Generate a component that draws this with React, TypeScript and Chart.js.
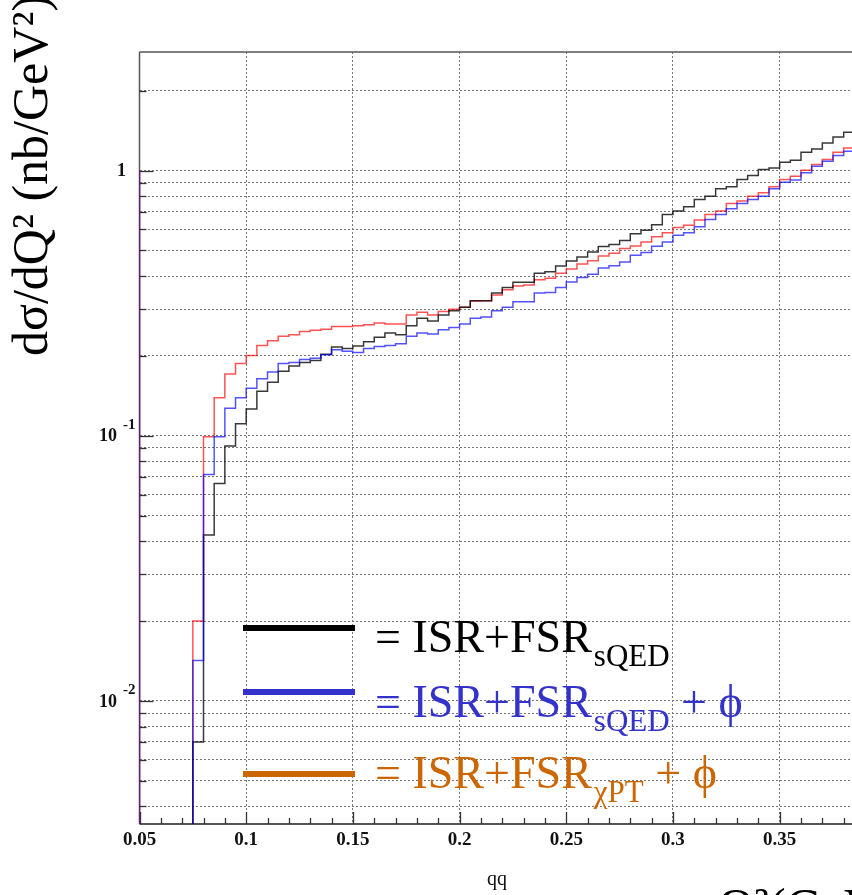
import React, { useEffect, useRef } from 'react';
import { Chart, registerables } from 'chart.js';

Chart.register(...registerables);

// ---- data ----
const BIN_START = 0.075; // first filled bin lower edge
const BIN_WIDTH = 0.005;
const X_MIN = 0.05;
const X_MAX = 0.3839;
const Y_MIN = 0.003434;
const Y_MAX = 2.798;
const LEFT_EDGE_LEVEL = 1; // red/blue outline along the x-minimum edge
const FLOOR = 1e-3; // empty bins (below the visible range)

const blackSQED = [
  0.007, 0.0422, 0.066, 0.0914, 0.111, 0.126, 0.147, 0.159, 0.175, 0.183,
  0.189, 0.192, 0.203, 0.216, 0.213, 0.218, 0.226, 0.235, 0.244, 0.24,
  0.26, 0.277, 0.271, 0.285, 0.296, 0.305, 0.323, 0.323, 0.345, 0.362,
  0.379, 0.379, 0.41, 0.415, 0.436, 0.456, 0.472, 0.493, 0.517, 0.526,
  0.545, 0.578, 0.595, 0.624, 0.683, 0.703, 0.73, 0.778, 0.8, 0.853,
  0.868, 0.925, 0.958, 1.009, 1.023, 1.074, 1.093, 1.172, 1.206, 1.271,
  1.339, 1.393,
];

const blueSQEDphi = [
  0.0142, 0.0714, 0.099, 0.127, 0.139, 0.151, 0.164, 0.174, 0.187, 0.189,
  0.194, 0.196, 0.202, 0.211, 0.208, 0.206, 0.213, 0.217, 0.219, 0.222,
  0.237, 0.244, 0.242, 0.251, 0.256, 0.264, 0.277, 0.28, 0.296, 0.305,
  0.32, 0.32, 0.345, 0.347, 0.362, 0.38, 0.395, 0.406, 0.429, 0.437,
  0.452, 0.479, 0.491, 0.518, 0.538, 0.57, 0.583, 0.614, 0.654, 0.683,
  0.718, 0.751, 0.778, 0.8, 0.853, 0.904, 0.92, 0.98, 1.038, 1.084,
  1.139, 1.182,
];

const redChiPTphi = [
  0.02, 0.099, 0.139, 0.171, 0.187, 0.2005, 0.219, 0.228, 0.237, 0.24,
  0.247, 0.25, 0.252, 0.258, 0.258, 0.26, 0.262, 0.266, 0.264, 0.264,
  0.285, 0.292, 0.285, 0.294, 0.3, 0.305, 0.322, 0.323, 0.339, 0.355,
  0.367, 0.37, 0.387, 0.392, 0.41, 0.425, 0.444, 0.457, 0.476, 0.488,
  0.508, 0.519, 0.538, 0.562, 0.583, 0.609, 0.621, 0.65, 0.683, 0.703,
  0.751, 0.767, 0.8, 0.824, 0.868, 0.925, 0.952, 1.003, 1.053, 1.1,
  1.172, 1.217,
];

const yDecadeLabels = [
  { value: 1, base: '1', exp: '' },
  { value: 0.1, base: '10', exp: '-1' },
  { value: 0.01, base: '10', exp: '-2' },
];

const legendRows = [
  { color: '#000000', sub: 'sQED', tail: '' },
  { color: '#3333cc', sub: 'sQED', tail: ' + \u03D5' },
  { color: '#cc6600', sub: '\u03C7PT', tail: ' + \u03D5' },
];

const Y_TITLE = 'd\u03C3/dQ\u00B2 (nb/GeV\u00B2)';
const X_TITLE = 'qq';
const X_TITLE_BIG = 'Q\u00B2(GeV\u00B2)';

const SERIF = "'Liberation Serif', 'Times New Roman', serif";

// ---- helpers ----
function histPoints(values: number[], leftLevel?: number) {
  const pts: { x: number; y: number }[] = [];
  if (leftLevel !== undefined) {
    pts.push({ x: X_MIN, y: leftLevel });
    pts.push({ x: X_MIN, y: FLOOR });
  }
  pts.push({ x: BIN_START, y: FLOOR });
  values.forEach((v, i) => {
    const lo = BIN_START + BIN_WIDTH * i;
    pts.push({ x: lo, y: v });
    pts.push({ x: lo + BIN_WIDTH, y: v });
  });
  return pts;
}

function yGridValues() {
  const out: number[] = [];
  for (let e = -3; e <= 0; e++) {
    for (let m = 1; m <= 9; m++) {
      const v = Number((m * Math.pow(10, e)).toPrecision(3));
      if (v >= Y_MIN && v <= Y_MAX) out.push(v);
    }
  }
  return out;
}

const decoPlugin = {
  id: 'deco',
  beforeDatasetsDraw(chart: any) {
    const { ctx, chartArea: a, scales } = chart;
    const x = scales.x;
    const y = scales.y;
    ctx.save();
    // frame
    ctx.strokeStyle = '#555';
    ctx.lineWidth = 1.5;
    ctx.beginPath();
    ctx.moveTo(a.left, a.top);
    ctx.lineTo(a.right, a.top);
    ctx.moveTo(a.left, a.top);
    ctx.lineTo(a.left, a.bottom);
    ctx.stroke();
    ctx.lineWidth = 2;
    ctx.beginPath();
    ctx.moveTo(a.left, a.bottom);
    ctx.lineTo(a.right, a.bottom);
    ctx.stroke();
    // x tick marks
    ctx.strokeStyle = '#333';
    ctx.lineWidth = 1.3;
    for (let i = 0; ; i++) {
      const v = X_MIN + 0.01 * i;
      if (v > X_MAX) break;
      const px = Math.round(x.getPixelForValue(v)) + 0.5;
      const len = i % 5 === 0 ? 12 : 6;
      ctx.beginPath();
      ctx.moveTo(px, a.bottom);
      ctx.lineTo(px, a.bottom - len);
      ctx.stroke();
    }
    // y tick marks
    yGridValues().forEach((v) => {
      const py = Math.round(y.getPixelForValue(v)) + 0.5;
      const major = Math.abs(Math.log10(v) - Math.round(Math.log10(v))) < 1e-6;
      const len = major ? 14 : 7;
      ctx.beginPath();
      ctx.moveTo(a.left, py);
      ctx.lineTo(a.left + len, py);
      ctx.stroke();
    });
    ctx.restore();
  },
  afterDraw(chart: any) {
    const { ctx, scales } = chart;
    const y = scales.y;
    ctx.save();
    // y labels
    ctx.fillStyle = '#111';
    ctx.textBaseline = 'middle';
    ctx.textAlign = 'left';
    yDecadeLabels.forEach((l) => {
      const py = y.getPixelForValue(l.value);
      ctx.font = `bold 18px ${SERIF}`;
      if (!l.exp) {
        ctx.fillText(l.base, 117, py + 1);
      } else {
        ctx.fillText(l.base, 99, py + 1);
        ctx.font = `bold 15px ${SERIF}`;
        ctx.fillText(l.exp, 123, py - 11);
      }
    });
    // y title
    ctx.save();
    ctx.translate(47, 356);
    ctx.rotate(-Math.PI / 2);
    ctx.font = `50px ${SERIF}`;
    ctx.textBaseline = 'alphabetic';
    ctx.fillStyle = '#000';
    ctx.fillText(Y_TITLE, 0, 0);
    ctx.restore();
    // x titles
    ctx.textBaseline = 'alphabetic';
    ctx.fillStyle = '#111';
    ctx.font = `20px ${SERIF}`;
    ctx.fillText(X_TITLE, 487, 885);
    ctx.fillStyle = '#000';
    ctx.font = `50px ${SERIF}`;
    ctx.fillText(X_TITLE_BIG, 718, 923);
    // legend
    const lineY = [628, 692, 774];
    const baseY = [652, 717, 788];
    legendRows.forEach((r, i) => {
      ctx.strokeStyle = r.color;
      ctx.lineWidth = 6;
      ctx.beginPath();
      ctx.moveTo(243, lineY[i]);
      ctx.lineTo(355, lineY[i]);
      ctx.stroke();
      ctx.fillStyle = r.color;
      ctx.font = `46px ${SERIF}`;
      const main = '= ISR+FSR';
      ctx.fillText(main, 375, baseY[i]);
      let xx = 375 + ctx.measureText(main).width + 2;
      ctx.font = `31px ${SERIF}`;
      ctx.fillText(r.sub, xx, baseY[i] + 14);
      xx += ctx.measureText(r.sub).width;
      if (r.tail) {
        ctx.font = `46px ${SERIF}`;
        ctx.fillText(r.tail, xx, baseY[i]);
      }
    });
    ctx.restore();
  },
};

export default function App() {
  const ref = useRef<HTMLCanvasElement>(null);
  useEffect(() => {
    if (!ref.current) return;
    const gridStyle = { color: '#777777', lineWidth: 1, drawTicks: false };
    const chart = new Chart(ref.current, {
      type: 'line',
      data: {
        datasets: [
          {
            label: 'ISR+FSR sQED + phi',
            data: histPoints(blueSQEDphi, LEFT_EDGE_LEVEL),
            borderColor: 'rgba(0,0,255,0.68)',
            borderWidth: 1.5,
            pointRadius: 0,
            fill: false,
            tension: 0,
            order: 0,
          },
          {
            label: 'ISR+FSR sQED',
            data: histPoints(blackSQED),
            borderColor: 'rgba(0,0,0,0.78)',
            borderWidth: 1.5,
            pointRadius: 0,
            fill: false,
            tension: 0,
            order: 1,
          },
          {
            label: 'ISR+FSR chiPT + phi',
            data: histPoints(redChiPTphi, LEFT_EDGE_LEVEL),
            borderColor: 'rgba(255,0,0,0.68)',
            borderWidth: 1.5,
            pointRadius: 0,
            fill: false,
            tension: 0,
            order: 2,
          },
        ],
      },
      options: {
        animation: false,
        responsive: false,
        layout: { padding: { top: 52, left: 0, right: 0, bottom: 0 } },
        plugins: { legend: { display: false }, tooltip: { enabled: false } },
        elements: { line: { borderJoinStyle: 'miter', borderCapStyle: 'butt' } },
        scales: {
          x: {
            type: 'linear',
            min: X_MIN,
            max: X_MAX,
            afterFit: (s: any) => {
              s.height = 71;
            },
            grid: gridStyle,
            border: { display: false, dash: [2, 2] },
            ticks: {
              stepSize: 0.05,
              includeBounds: false,
              autoSkip: false,
              maxRotation: 0,
              padding: 5,
              color: '#111',
              font: { family: SERIF, size: 19, weight: 'bold' },
              callback: (v: any) => String(parseFloat(Number(v).toFixed(2))),
            },
          },
          y: {
            type: 'logarithmic',
            min: Y_MIN,
            max: Y_MAX,
            afterFit: (s: any) => {
              s.width = 139.5;
            },
            afterBuildTicks: (s: any) => {
              s.ticks = yGridValues().map((v) => ({ value: v }));
            },
            grid: gridStyle,
            border: { display: false, dash: [2, 2] },
            ticks: { display: false },
          },
        },
      } as any,
      plugins: [decoPlugin],
    });
    return () => chart.destroy();
  }, []);
  return (
    <div style={{ position: 'absolute', left: 0, top: 0, width: 852, height: 895, background: '#fff' }}>
      <canvas ref={ref} width={852} height={895} style={{ display: 'block' }} />
    </div>
  );
}
